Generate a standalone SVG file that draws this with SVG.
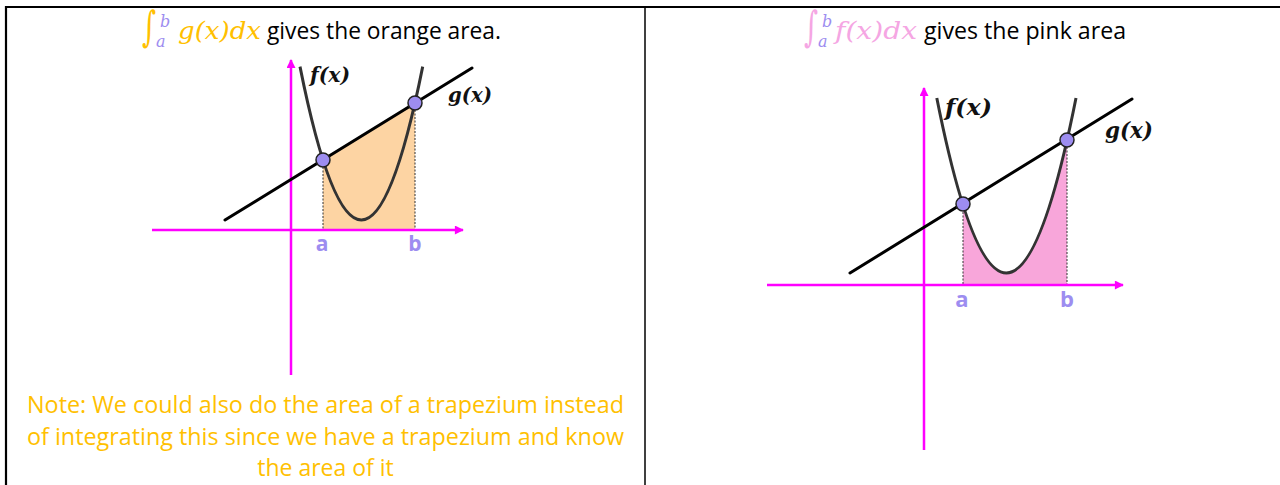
<svg xmlns="http://www.w3.org/2000/svg" width="1280" height="485" viewBox="0 0 1280 485">
<style>
.ui{font-family:"Open Sans","Noto Sans",sans-serif;}
.math{font-family:"DejaVu Serif","Liberation Serif",serif;font-style:italic;}
.int{font-family:"DejaVu Serif","Liberation Serif",serif;font-size:30px;}
.lbl{font-family:"DejaVu Serif","Liberation Serif",serif;font-style:italic;font-weight:bold;fill:#111;}
.ab{font-family:"Open Sans","Noto Sans",sans-serif;font-weight:bold;fill:#9d8df0;text-anchor:middle;}
.axis{stroke:#ff00ff;stroke-width:2.5;fill:none;}
.gline{stroke:#000;stroke-width:3;fill:none;stroke-linecap:round;}
.fcurve{stroke:#333;stroke-width:3;fill:none;}
.dash{stroke:#333;stroke-width:1;stroke-dasharray:2 1.5;fill:none;}
.pt{fill:#9d8df0;stroke:#222;stroke-width:1.5;}
.border{stroke:#000;fill:none;}
</style>
<defs>
<marker id="arr" viewBox="0 0 10 10" refX="9" refY="5" markerWidth="10" markerHeight="9" markerUnits="userSpaceOnUse" orient="auto">
<path d="M0,0 L10,5 L0,10 Z" fill="#ff00ff"/>
</marker>
</defs>
<rect x="0" y="0" width="1280" height="485" fill="#fff"/>
<g id="table">
<line class="border" x1="5" y1="7" x2="1280" y2="7" stroke-width="2.2"/>
<line class="border" x1="6" y1="6" x2="6" y2="485" stroke-width="2.2"/>
<line class="border" x1="645" y1="7" x2="645" y2="485" stroke-width="1.5"/>
</g>
<g id="title-left">
<text class="int" transform="translate(142,41) scale(0.9,1.4)" fill="#ffc000">∫</text>
<text class="math" x="160" y="27" font-size="16" fill="#9d8df0">b</text>
<text class="math" x="156" y="47" font-size="16" fill="#9d8df0">a</text>
<text class="math" x="178" y="39" font-size="25" fill="#ffc000" textLength="83" lengthAdjust="spacingAndGlyphs">g(x)dx</text>
<text class="ui" x="267" y="39" font-size="23" fill="#000" textLength="234" lengthAdjust="spacingAndGlyphs">gives the orange area.</text>
</g>
<g id="title-right">
<text class="int" transform="translate(804,41) scale(0.9,1.4)" fill="#f5a6e3">∫</text>
<text class="math" x="822" y="27" font-size="16" fill="#9d8df0">b</text>
<text class="math" x="818" y="47" font-size="16" fill="#9d8df0">a</text>
<text class="math" x="835" y="39" font-size="25" fill="#f5a6e3" textLength="82" lengthAdjust="spacingAndGlyphs">f(x)dx</text>
<text class="ui" x="924" y="39" font-size="23" fill="#000" textLength="202" lengthAdjust="spacingAndGlyphs">gives the pink area</text>
</g>
<g id="graph-left">
<path d="M323,230 L323,160 L415,103 L415,230 Z" fill="#fdd4a3"/>
<line class="dash" x1="323" y1="160" x2="323" y2="230"/>
<line class="dash" x1="415" y1="103" x2="415" y2="230"/>
<line class="axis" x1="291" y1="375" x2="291" y2="60" marker-end="url(#arr)"/>
<line class="axis" x1="152" y1="230" x2="463" y2="230" marker-end="url(#arr)"/>
<line class="gline" x1="225" y1="220" x2="472" y2="68"/>
<path class="fcurve" d="M300,66.6 Q361.4,373.4 422.7,66.6"/>
<circle class="pt" cx="323" cy="160" r="7"/>
<circle class="pt" cx="415" cy="103" r="7"/>
<text class="lbl" x="310" y="82" font-size="21" textLength="40" lengthAdjust="spacingAndGlyphs">f(x)</text>
<text class="lbl" x="448" y="102" font-size="21" textLength="44" lengthAdjust="spacingAndGlyphs">g(x)</text>
<text class="ab" x="322" y="251" font-size="21">a</text>
<text class="ab" x="415" y="251" font-size="21">b</text>
</g>
<g id="graph-right">
<path d="M963,285 L963,205 Q1015,367.7 1067,140 L1067,285 Z" fill="#f8a6da"/>
<line class="dash" x1="963" y1="205" x2="963" y2="285"/>
<line class="dash" x1="1067" y1="140" x2="1067" y2="285"/>
<line class="axis" x1="924" y1="450" x2="924" y2="88" marker-end="url(#arr)"/>
<line class="axis" x1="767" y1="285" x2="1123" y2="285" marker-end="url(#arr)"/>
<line class="gline" x1="850" y1="273" x2="1132" y2="99"/>
<path class="fcurve" d="M936.8,98 Q1006.4,448 1076,98"/>
<circle class="pt" cx="963" cy="204" r="7"/>
<circle class="pt" cx="1067" cy="140" r="7"/>
<text class="lbl" x="945" y="115" font-size="23" textLength="47" lengthAdjust="spacingAndGlyphs">f(x)</text>
<text class="lbl" x="1105" y="138" font-size="23" textLength="48" lengthAdjust="spacingAndGlyphs">g(x)</text>
<text class="ab" x="962" y="307" font-size="22">a</text>
<text class="ab" x="1067" y="307" font-size="22">b</text>
</g>
<g id="note" class="ui" font-size="23" fill="#ffc000" text-anchor="middle">
<text x="325.5" y="413" textLength="597" lengthAdjust="spacingAndGlyphs">Note: We could also do the area of a trapezium instead</text>
<text x="325.5" y="444.5" textLength="597" lengthAdjust="spacingAndGlyphs">of integrating this since we have a trapezium and know</text>
<text x="325.5" y="476">the area of it</text>
</g>
</svg>
